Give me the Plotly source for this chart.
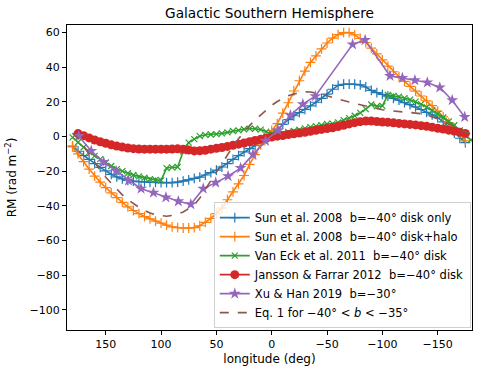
import plotly.graph_objects as go

# longitude grid of the model curves (deg)
lon = list(range(180, -181, -5))

sun_disk = [-5.5, -8.5, -11, -13.2, -15.6, -17.8, -19.8, -21.8, -23.3, -24.5,
            -25.3, -25.8, -26.1, -26.2, -26.4, -26.5, -26.6, -26.6, -26.6, -26.3,
            -25.7, -25, -24.2, -23.4, -22.2, -20.8, -19.4, -17.6, -15.6, -13.2,
            -11, -8.9, -7, -5.2, -3.3, -1.2, 1.2, 4, 7, 9.8,
            12, 13.8, 15.7, 17.7, 19.8, 22, 24.5, 27.3, 29.5, 30.2,
            30.3, 30.2, 29.8, 28.6, 26.6, 25.3, 24.3, 23.3, 22, 21,
            19.6, 18.4, 17.1, 15.6, 14, 12.5, 11, 8.5, 5.5, 2,
            -1, -3.5, None]

sun_halo = [-6, -10, -14.5, -18.8, -22.8, -26.3, -29.5, -32.5, -35.3, -38,
            -40.6, -42.7, -44.5, -46.2, -47.5, -48.8, -50, -51.2, -52.2, -52.6,
            -52.8, -52.8, -52.6, -51.5, -49.6, -47.3, -44.5, -41.3, -36.5, -32,
            -27.3, -22.5, -16.1, -10.5, -4.8, -1, 3.5, 7.5, 13.5, 19.5,
            26.3, 32.2, 37.8, 42.8, 46.6, 50.6, 54, 56.8, 58.9, 60,
            60, 58.7, 56.6, 54.3, 51, 47.7, 44.3, 40.6, 37.4, 34.6,
            31.8, 29, 26.2, 23.4, 20.6, 17.9, 14.7, 11.4, 8, 4.8,
            1.8, -2.5, None]

van_eck = [-0.5, -3.3, -6.2, -9, -11.2, -13, -15, -17, -18.8, -20,
           -21.2, -22.2, -23, -23.8, -24.6, -25, -25.3, -18.2, -17.8, -17.6,
           -8.5, -3.5, -1.5, 0.2, 1, 1.2, 1.4, 1.8, 2.4, 3.2,
           3.6, 4.2, 4.6, 4.5, 4, 2.8, 1.8, 1.5, 1.8, 2.6,
           3.2, 3.9, 4.7, 5.4, 6, 6.6, 7.3, 7.5, 8.2, 9.5,
           10.6, 12, 13.7, 15.8, 18.5, 17.5, 17.7, 24, 23.5, 23,
           22.2, 21.3, 20.2, 18.7, 17, 15.1, 13.1, 11, 8.7, 6.5,
           3.6, 0.5, -2]

jansson = [None, 1.7, 0.5, -0.8, -2, -3, -3.9, -4.8, -5.5, -6.1,
           -6.6, -7, -7.2, -7.3, -7.3, -7.3, -7.3, -7.3, -7.2, -7.1,
           -7.3, -7.8, -8.3, -8.2, -7.9, -7.3, -6.8, -6.3, -5.7, -5,
           -4.4, -3.7, -3, -2.3, -1.6, -1, -0.3, 0.2, 0.6, 1.2,
           1.6, 2, 2.5, 3, 3.6, 4.1, 4.6, 5.1, 5.8, 6.5,
           7.3, 8, 8.6, 9, 9, 8.7, 8.4, 8.2, 7.9, 7.6,
           7.3, 7, 6.7, 6.3, 5.9, 5.4, 4.8, 4.3, 3.7, 3.1,
           2.5, 1.8, None]

eq1 = [2, -1.2, -5.5, -10.3, -15, -19.5, -23.5, -27, -30.5, -33.7,
       -36.5, -38.8, -40.8, -42.6, -44.2, -45.2, -45.8, -46, -45.6, -44.8,
       -43.6, -41.6, -39.5, -35.5, -30.5, -25.3, -20.3, -15.4, -10.5, -5.7,
       -1.3, 2.8, 6.3, 9.6, 12.6, 15.3, 18, 20.2, 22, 23.5,
       24.6, 25.4, 25.8, 25.7, 25.2, 24.4, 23.5, 22.5, 21.6, 20.7,
       19.9, 19.1, 18.3, 17.5, 16.8, 16.1, 15.5, 15, 14.6, 14.3,
       14.1, 13.9, 13.7, 13.2, 12.4, 11.4, 10.2, 8.8, 7.1, 5.5,
       4, 2.6, 1.5]

# Xu & Han 2019 bins
xh_lon = [174.4, 163.1, 151.9, 140.6, 129.4, 118.1, 106.9, 95.6, 84.4, 73.1,
          61.9, 50.6, 39.4, 28.1, 16.9, 5.6, -5.6, -16.9, -28.1, -39.4,
          -73.1, -84.4, -106.9, -118.1, -129.4, -140.6, -151.9, -163.1, -174.4]
xh_rm = [0.3, -8.3, -14.7, -19.9, -25.4, -30.1, -32.4, -35.1, -37.4, -39.1,
         -30.1, -26.6, -22.9, -18.2, -10.4, -2.5, 3.6, 12.3, 18.7, 23.3,
         53.2, 55.7, 35, 33.9, 32.5, 31.2, 28.3, 21, 11.3]

sp = "\u00a0"
names = [
    f"Sun et al. 2008 {sp}b=−40° disk only",
    f"Sun et al. 2008 {sp}b=−40° disk+halo",
    f"Van Eck et al. 2011 {sp}b=−40° disk",
    f"Jansson &amp; Farrar 2012 {sp}b=−40° disk",
    f"Xu &amp; Han 2019 {sp}b=−30°",
    "Eq. 1 for −40° &lt; <i>b</i> &lt; −35°",
]

fig = go.Figure()

fig.add_trace(go.Scatter(
    x=lon, y=sun_disk, mode='lines+markers', name=names[0],
    line=dict(color='#1f77b4', width=1.6),
    marker=dict(symbol='cross-thin', size=7, line=dict(color='#1f77b4', width=1.2))
))
fig.add_trace(go.Scatter(
    x=lon, y=sun_halo, mode='lines+markers', name=names[1],
    line=dict(color='#ff7f0e', width=1.6),
    marker=dict(symbol='cross-thin', size=7, line=dict(color='#ff7f0e', width=1.2))
))
fig.add_trace(go.Scatter(
    x=lon, y=van_eck, mode='lines+markers', name=names[2],
    line=dict(color='#2ca02c', width=1.6),
    marker=dict(symbol='x-thin', size=6, line=dict(color='#2ca02c', width=1.2))
))
fig.add_trace(go.Scatter(
    x=lon, y=jansson, mode='lines+markers', name=names[3],
    line=dict(color='#d62728', width=1.6),
    marker=dict(symbol='circle', size=9, color='#d62728')
))
fig.add_trace(go.Scatter(
    x=xh_lon, y=xh_rm, mode='lines+markers', name=names[4],
    line=dict(color='#9467bd', width=1.6),
    marker=dict(symbol='star', size=9, color='#9467bd')
))
fig.add_trace(go.Scatter(
    x=lon, y=eq1, mode='lines', name=names[5],
    line=dict(color='#8c564b', width=1.6, dash='dash')
))

axis_style = dict(
    showline=True, mirror=True, linecolor='black', linewidth=1,
    ticks='outside', ticklen=4, tickcolor='black',
    showgrid=False, zeroline=False, automargin=False,
    tickfont=dict(size=11, color='black'),
)

W, H = 485, 376
fig.update_layout(
    width=W, height=H,
    margin=dict(l=67, r=13, t=25, b=46),
    paper_bgcolor='white', plot_bgcolor='white',
    font=dict(family='DejaVu Sans', color='black'),
    title=dict(text='Galactic Southern Hemisphere', x=0.5, xref='paper',
               y=1 - 13 / H, yref='container', yanchor='middle',
               font=dict(size=13.7, color='black')),
    xaxis=dict(axis_style, range=[185, -181], tickvals=[150, 100, 50, 0, -50, -100, -150],
               title=dict(text='longitude (deg)', font=dict(size=12), standoff=4)),
    yaxis=dict(axis_style, range=[-111.7, 64.4], tickvals=[-100, -80, -60, -40, -20, 0, 20, 40, 60],
               title=dict(text='RM (rad m<sup>−2</sup>)', font=dict(size=12), standoff=10)),
    legend=dict(x=0.997, y=0.006, xanchor='right', yanchor='bottom',
                bgcolor='rgba(255,255,255,0.8)', bordercolor='#d0d0d0', borderwidth=1,
                font=dict(size=11.5, color='black'), itemwidth=30,
                tracegroupgap=0),
    showlegend=True,
)

# drop the default body margin so the figure sits at the page corner
fig.write_html("out.html", config={'displayModeBar': False},
               post_script="document.body.style.margin='0';")
